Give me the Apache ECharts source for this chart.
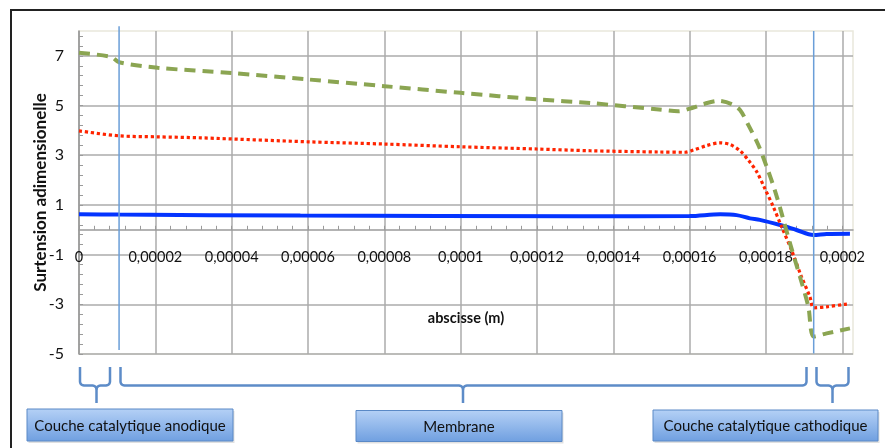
<!DOCTYPE html>
<html>
<head>
<meta charset="utf-8">
<script src="https://cdn.jsdelivr.net/npm/echarts@6/dist/echarts.min.js"></script>
<style>
html,body{margin:0;padding:0;background:#fff;}
#chart{width:885px;height:448px;}
</style>
</head>
<body>
<div id="chart"></div>
<script>
// ---- data ----
var xTicks = [0, 0.00002, 0.00004, 0.00006, 0.00008, 0.0001, 0.00012, 0.00014, 0.00016, 0.00018, 0.0002];
var yTicks = [-5, -3, -1, 1, 3, 5, 7];

var blueX = [0, 0.0000105, 0.000058, 0.000131, 0.00016, 0.000168, 0.0001723, 0.0001758, 0.0001784, 0.0001837, 0.000188, 0.0001924, 0.0001959, 0.000202];
var blueY = [0.62, 0.61, 0.57, 0.54, 0.55, 0.62, 0.59, 0.46, 0.40, 0.19, -0.01, -0.21, -0.17, -0.16];

var redX = [0, 0.0000105, 0.0000206, 0.0000319, 0.00006, 0.00008, 0.0001, 0.00012, 0.000134, 0.000152, 0.0001588, 0.000161, 0.0001645, 0.000168, 0.0001706, 0.0001732, 0.0001754, 0.0001776, 0.0001797, 0.0001819, 0.0001841, 0.0001867, 0.0001893, 0.0001915, 0.0001925, 0.0001959, 0.0002007, 0.000202];
var redY = [3.98, 3.78, 3.74, 3.70, 3.54, 3.45, 3.34, 3.25, 3.18, 3.13, 3.12, 3.21, 3.39, 3.50, 3.43, 3.18, 2.80, 2.33, 1.66, 0.93, 0.12, -0.82, -1.89, -2.69, -3.14, -3.10, -3.00, -2.98];

var greenX = [0, 0.0000084, 0.0000105, 0.0000206, 0.00004, 0.00006, 0.00008, 0.0001, 0.00012, 0.000134, 0.000152, 0.000157, 0.000161, 0.0001636, 0.0001675, 0.000171, 0.0001732, 0.0001754, 0.000178, 0.0001802, 0.0001823, 0.0001841, 0.0001863, 0.0001889, 0.0001911, 0.0001925, 0.0001959, 0.000202];
var greenY = [7.12, 6.96, 6.74, 6.52, 6.31, 6.05, 5.78, 5.51, 5.25, 5.10, 4.84, 4.77, 4.92, 5.06, 5.19, 5.06, 4.82, 4.21, 3.41, 2.53, 1.60, 0.66, -0.55, -1.89, -3.10, -4.30, -4.17, -3.97];

// layer boundaries (x position, top value, bottom value)
var anodeBoundary = {x: 0.0000105, top: 8.19, bottom: -4.84};
var cathodeBoundary = {x: 0.0001925, top: 8.0, bottom: -4.98};

var regionLabels = ['Couche catalytique anodique', 'Membrane', 'Couche catalytique cathodique'];
var xAxisTitle = 'abscisse (m)';
var yAxisTitle = 'Surtension adimensionelle';

// ---- chart ----
function pairs(xs, ys){ return xs.map(function(x,i){ return [x, ys[i]]; }); }
var FONT = "Lato,'Open Sans',sans-serif";
var gridColor = '#ababab';

var chart = echarts.init(document.getElementById('chart'), null, {renderer:'canvas'});

function arcPts(cx, cy, r, a0, a1){
  var pts = [];
  for (var i = 0; i <= 6; i++){
    var a = a0 + (a1 - a0) * i / 6;
    pts.push([cx + r*Math.cos(a), cy + r*Math.sin(a)]);
  }
  return pts;
}
function brace(L, R, T){
  var y0 = 367, y1 = 385.5, y2 = 403, r = 4, P = Math.PI;
  var left = [[L, y0]].concat(arcPts(L + r, y1 - r, r, P, P/2)).concat(arcPts(T - r, y1 + r, r, -P/2, 0)).concat([[T, y2]]);
  var right = [[T, y1 + r]].concat(arcPts(T + r, y1 + r, r, P, 3*P/2)).concat(arcPts(R - r, y1 - r, r, P/2, 0)).concat([[R, y0]]);
  var st = {stroke:'#5d8cc8', lineWidth:2.5, fill:null};
  return [
    {type:'polyline', shape:{points:left}, style:st},
    {type:'polyline', shape:{points:right}, style:st}
  ];
}
function box(x, y, w, h, text){
  return [
    {type:'rect', shape:{x:x+1.5, y:y+2, width:w, height:h}, style:{fill:'rgba(0,0,0,0.12)'}},
    {type:'rect', shape:{x:x, y:y, width:w, height:h},
     style:{fill:new echarts.graphic.LinearGradient(0,0,0,1,[{offset:0,color:'#b5d1f6'},{offset:1,color:'#6f9fe0'}]),
            stroke:'#5a89c6', lineWidth:1}},
    {type:'text', x:x+w/2, y:y+h/2+1, style:{text:text, fill:'#111', font:'15px '+FONT, textAlign:'center', textVerticalAlign:'middle'}}
  ];
}

var graphics = [
  {type:'polyline', shape:{points:[[11,448],[11,10],[885,10]]}, style:{stroke:'#222', lineWidth:2, fill:null}}
].concat(brace(80,110,96.5), brace(120.5,806.5,463), brace(816.5,848.5,832.5),
  box(27, 409, 206, 32, regionLabels[0]),
  box(356, 410.5, 206, 31, regionLabels[1]),
  box(653, 410, 225, 31, regionLabels[2]));

var option = {
  animation:false,
  backgroundColor:'#ffffff',
  grid:{left:79, right:32, top:31, bottom:94, show:true, borderColor:'#e9e8dc', borderWidth:1.5, backgroundColor:'transparent'},
  xAxis:{
    type:'value', min:0, max:0.0002028, interval:0.00002,
    offset:-124.2,
    name:xAxisTitle, nameLocation:'middle', nameGap:81, nameMoveOverlap:false,
    nameTextStyle:{fontFamily:FONT, fontWeight:'bold', fontSize:14.5, color:'#111'},
    axisLine:{show:true, onZero:false, lineStyle:{color:'#9a9a9a', width:1.5}},
    axisTick:{show:true, inside:true, length:4, customValues:xTicks, lineStyle:{color:'#9a9a9a'}},
    minorTick:{show:true, splitNumber:5, length:4, lineStyle:{color:'#9a9a9a'}},
    axisLabel:{customValues:xTicks, margin:20, fontFamily:FONT, fontSize:14.5, color:'#111',
      formatter:function(v){ return String(v).replace('.', ','); }},
    splitLine:{show:true, lineStyle:{color:gridColor, width:1.5}}
  },
  yAxis:{
    type:'value', min:-5, max:8, interval:2,
    name:yAxisTitle, nameLocation:'middle', nameGap:30, nameRotate:90, nameMoveOverlap:false,
    nameTextStyle:{fontFamily:FONT, fontWeight:'bold', fontSize:17, color:'#111'},
    axisLine:{show:true, lineStyle:{color:'#9a9a9a', width:1.5}},
    axisTick:{show:true, inside:true, length:4, customValues:yTicks, lineStyle:{color:'#9a9a9a'}},
    minorTick:{show:true, splitNumber:5, length:4, lineStyle:{color:'#9a9a9a'}},
    axisLabel:{customValues:yTicks, margin:15, fontFamily:FONT, fontSize:16, color:'#111'},
    splitLine:{show:true, lineStyle:{color:gridColor, width:1.5}}
  },
  series:[
    {type:'line', name:'blue', data:pairs(blueX, blueY), showSymbol:false, smooth:0.3,
     lineStyle:{color:'#0434ff', width:4}, z:3},
    {type:'line', name:'red', data:pairs(redX, redY), showSymbol:false, smooth:0.3,
     lineStyle:{color:'#ff2400', width:3.2, type:[3.2,2.8]}, z:4},
    {type:'line', name:'green', data:pairs(greenX, greenY), showSymbol:false, smooth:0.3,
     lineStyle:{color:'#8ba552', width:4, type:[11,7]}, z:5},
    {type:'line', name:'b1', data:[[anodeBoundary.x, anodeBoundary.top],[anodeBoundary.x, anodeBoundary.bottom]],
     showSymbol:false, clip:false, silent:true, lineStyle:{color:'#6a9ed8', width:1.5}, z:6},
    {type:'line', name:'b2', data:[[cathodeBoundary.x, cathodeBoundary.top],[cathodeBoundary.x, cathodeBoundary.bottom]],
     showSymbol:false, clip:false, silent:true, lineStyle:{color:'#6a9ed8', width:1.5}, z:6}
  ],
  graphic:graphics
};
chart.setOption(option);
</script>
</body>
</html>
